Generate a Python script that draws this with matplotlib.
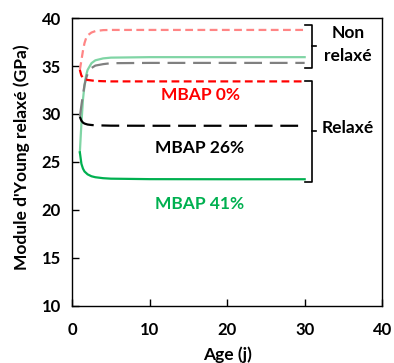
import matplotlib
matplotlib.use("Agg")
import matplotlib.pyplot as plt

plt.rcParams['font.family'] = ['Lato', 'DejaVu Sans']
plt.rcParams['font.weight'] = 'bold'

# ages (days) at which curves are sampled
ages = [1, 1.2, 1.4, 1.6, 1.8, 2.0, 2.5, 3, 4, 5, 10, 20, 30]

# MBAP 0%
e0_nonrelax = [34.6, 35.6, 36.6, 37.4, 37.9, 38.2, 38.5, 38.65, 38.75, 38.77, 38.77, 38.77, 38.77]
e0_relax = [34.6, 34.0, 33.8, 33.65, 33.6, 33.55, 33.5, 33.45, 33.42, 33.4, 33.4, 33.4, 33.4]
# MBAP 26%
e26_nonrelax = [29.7, 30.9, 32.0, 33.0, 33.7, 34.2, 34.8, 35.05, 35.2, 35.3, 35.33, 35.33, 35.33]
e26_relax = [29.7, 29.3, 29.1, 29.0, 28.95, 28.9, 28.85, 28.82, 28.8, 28.78, 28.77, 28.77, 28.77]
# MBAP 41%
e41_nonrelax = [26.0, 29.0, 31.5, 33.0, 34.0, 34.6, 35.3, 35.6, 35.8, 35.88, 35.93, 35.93, 35.93]
e41_relax = [26.0, 24.8, 24.3, 24.0, 23.85, 23.7, 23.5, 23.4, 23.3, 23.25, 23.2, 23.19, 23.19]

fig = plt.figure(figsize=(3.94, 3.63), dpi=100)
ax = fig.add_axes([0.183, 0.158, 0.787, 0.792])

ax.plot(ages, e0_nonrelax, color='#ff8585', lw=1.6, ls=(0, (3.5, 2)))
ax.plot(ages, e41_nonrelax, color='#80d5a5', lw=1.6)
ax.plot(ages, e26_nonrelax, color='#808080', lw=1.6, ls=(0, (8, 3.5)))
ax.plot(ages, e0_relax, color='#ff0000', lw=1.6, ls=(0, (3.5, 2)))
ax.plot(ages, e26_relax, color='black', lw=1.6, ls=(0, (8, 3.5)))
ax.plot(ages, e41_relax, color='#00b050', lw=1.6)

ax.set_xlim(0, 40)
ax.set_ylim(10, 40)
ax.set_xticks([0, 10, 20, 30, 40])
ax.set_yticks([10, 15, 20, 25, 30, 35, 40])
ax.tick_params(direction='in', length=5, width=1, labelsize=12)
ax.tick_params(axis='x', pad=12)
ax.tick_params(axis='y', pad=8)
for s in ax.spines.values():
    s.set_linewidth(1)

ax.set_xlabel('Age (j)', fontsize=12.5, fontweight='bold', labelpad=6)
ax.set_ylabel("Module d'Young relaxé (GPa)", fontsize=12.5, fontweight='bold')
ax.yaxis.set_label_coords(-0.135, 0.515)

# series labels
ax.text(16.5, 32.0, 'MBAP 0%', color='#ff0000', fontsize=12.5, ha='center', va='center')
ax.text(16.5, 26.4, 'MBAP 26%', color='black', fontsize=12.5, ha='center', va='center')
ax.text(16.5, 20.6, 'MBAP 41%', color='#00b050', fontsize=12.5, ha='center', va='center')

# brackets
def bracket(y0, y1, ym):
    ax.plot([30.1, 31.0, 31.0, 30.1], [y0, y0, y1, y1], color='black', lw=1.2)
    ax.plot([31.0, 31.4], [ym, ym], color='black', lw=1.2)

bracket(39.3, 34.8, 37.1)
bracket(33.4, 22.9, 28.2)
ax.text(35.6, 38.4, 'Non', fontsize=12.5, ha='center', va='center')
ax.text(35.6, 36.1, 'relaxé', fontsize=12.5, ha='center', va='center')
ax.text(35.6, 28.5, 'Relaxé', fontsize=12.5, ha='center', va='center')

fig.savefig('out.png', dpi=100)
